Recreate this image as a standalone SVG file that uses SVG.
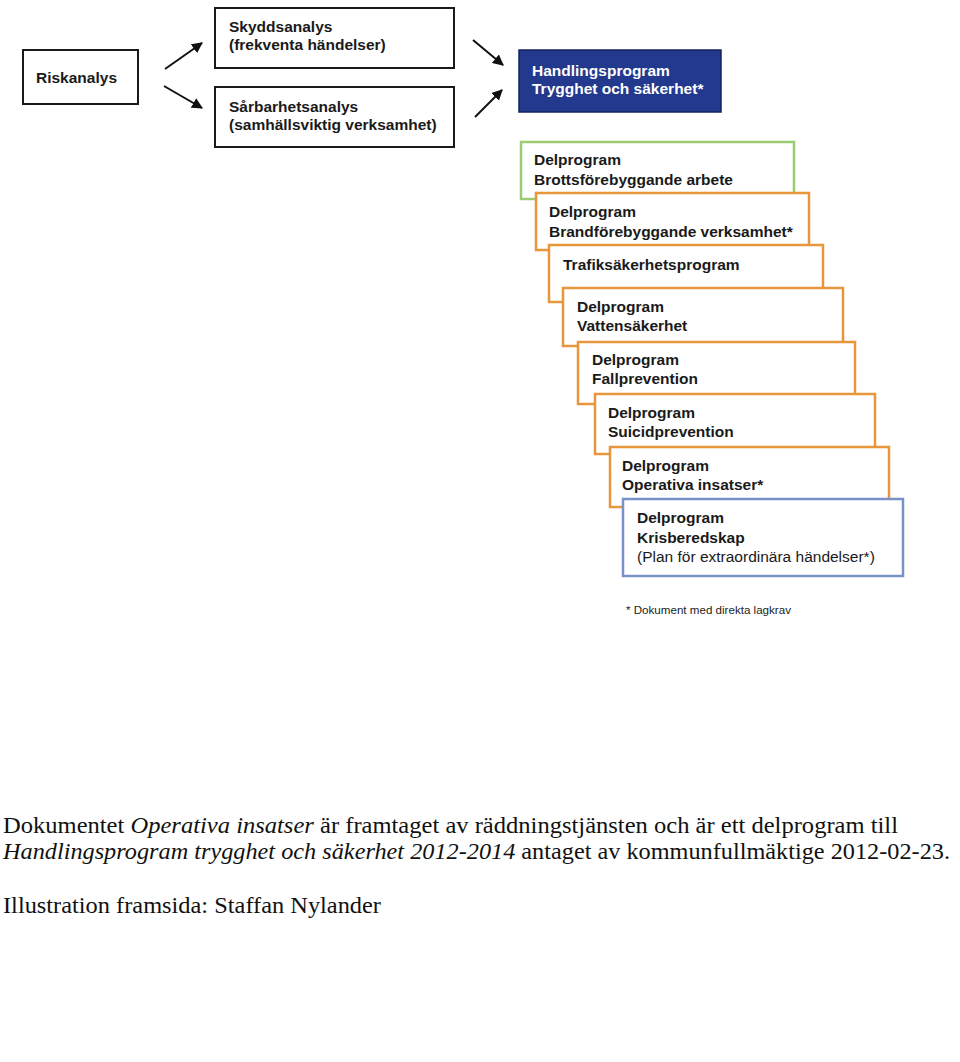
<svg xmlns="http://www.w3.org/2000/svg" width="960" height="1062" viewBox="0 0 960 1062">
<style>
.b{font-family:"Liberation Sans",Arial,sans-serif;font-weight:bold;font-size:15.5px;fill:#1a1a1a}
.r{font-family:"Liberation Sans",Arial,sans-serif;font-size:15.5px;fill:#1a1a1a}
.w{fill:#ffffff}
.bx{fill:#ffffff;stroke:#1a1a1a;stroke-width:2}
.og{fill:#ffffff;stroke:#e8963c;stroke-width:2.5}
.gr{fill:#ffffff;stroke:#9ccb72;stroke-width:2.5}
.bl{fill:#ffffff;stroke:#7891c6;stroke-width:2.5}
.body{font-family:"Liberation Serif","Times New Roman",serif;font-size:23px;fill:#111}
.ar{stroke:#111;stroke-width:2;fill:none;marker-end:url(#ah)}
</style>
<defs>
<marker id="ah" viewBox="0 0 10 10" refX="9" refY="5" markerWidth="5.5" markerHeight="5.5" orient="auto" markerUnits="strokeWidth">
<path d="M0,0 L10,5 L0,10 z" fill="#111"/>
</marker>
</defs>
<rect width="960" height="1062" fill="#ffffff"/>
<g id="riskanalys">
<rect class="bx" x="23" y="50" width="115" height="54"/>
<text class="b" x="36" y="83">Riskanalys</text>
</g>
<g id="skyddsanalys">
<rect class="bx" x="215" y="8" width="239" height="60"/>
<text class="b" x="229" y="32">Skyddsanalys</text>
<text class="b" x="229" y="50">(frekventa händelser)</text>
</g>
<g id="sarbarhetsanalys">
<rect class="bx" x="215" y="87" width="239" height="60"/>
<text class="b" x="229" y="112">Sårbarhetsanalys</text>
<text class="b" x="229" y="130">(samhällsviktig verksamhet)</text>
</g>
<g id="connectors">
<line class="ar" x1="165" y1="69" x2="202" y2="43"/>
<line class="ar" x1="164" y1="86" x2="202" y2="108"/>
<line class="ar" x1="473" y1="40" x2="503" y2="65"/>
<line class="ar" x1="475" y1="117" x2="502" y2="90"/>
</g>
<g id="handlingsprogram">
<rect x="519" y="50" width="202" height="62" fill="#22398d" stroke="#14235e" stroke-width="1.5"/>
<text class="b w" x="532" y="76">Handlingsprogram</text>
<text class="b w" x="532" y="94">Trygghet och säkerhet*</text>
</g>
<g id="brott">
<rect class="gr" x="521" y="142" width="273" height="57"/>
<text class="b" x="534" y="165">Delprogram</text>
<text class="b" x="534" y="185">Brottsförebyggande arbete</text>
</g>
<g id="brand">
<rect class="og" x="536" y="193" width="273" height="57"/>
<text class="b" x="549" y="217">Delprogram</text>
<text class="b" x="549" y="237">Brandförebyggande verksamhet*</text>
</g>
<g id="trafik">
<rect class="og" x="549" y="245" width="274" height="57"/>
<text class="b" x="563" y="270">Trafiksäkerhetsprogram</text>
</g>
<g id="vatten">
<rect class="og" x="563" y="288" width="280" height="58"/>
<text class="b" x="577" y="312">Delprogram</text>
<text class="b" x="577" y="331">Vattensäkerhet</text>
</g>
<g id="fall">
<rect class="og" x="578" y="342" width="277" height="62"/>
<text class="b" x="592" y="365">Delprogram</text>
<text class="b" x="592" y="384">Fallprevention</text>
</g>
<g id="suicid">
<rect class="og" x="595" y="394" width="280" height="60"/>
<text class="b" x="608" y="418">Delprogram</text>
<text class="b" x="608" y="437">Suicidprevention</text>
</g>
<g id="operativa">
<rect class="og" x="610" y="447" width="279" height="60"/>
<text class="b" x="622" y="471">Delprogram</text>
<text class="b" x="622" y="490">Operativa insatser*</text>
</g>
<g id="kris">
<rect class="bl" x="623" y="499" width="280" height="77"/>
<text class="b" x="637" y="523">Delprogram</text>
<text class="b" x="637" y="543">Krisberedskap</text>
<text class="r" x="637" y="562">(Plan för extraordinära händelser*)</text>
</g>
<text x="626" y="614" font-family="Liberation Sans,Arial,sans-serif" font-size="11.6" fill="#222">* Dokument med direkta lagkrav</text>
<text class="body" x="3" y="833" textLength="895" lengthAdjust="spacingAndGlyphs">Dokumentet <tspan font-style="italic">Operativa insatser</tspan> är framtaget av räddningstjänsten och är ett delprogram till</text>
<text class="body" x="3" y="859" textLength="947" lengthAdjust="spacingAndGlyphs"><tspan font-style="italic">Handlingsprogram trygghet och säkerhet 2012-2014</tspan> antaget av kommunfullmäktige 2012-02-23.</text>
<text class="body" x="3" y="913" textLength="378" lengthAdjust="spacingAndGlyphs">Illustration framsida: Staffan Nylander</text>
</svg>
